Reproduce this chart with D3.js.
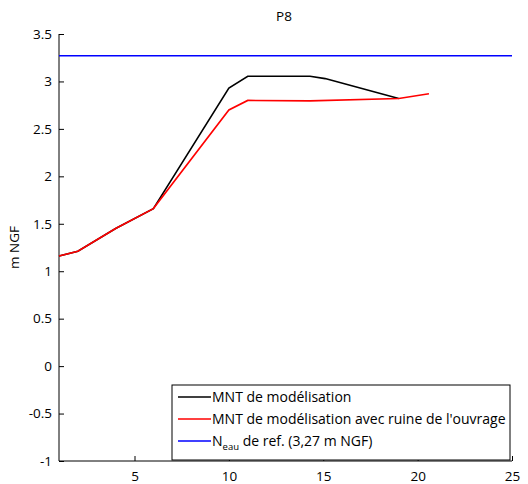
<!DOCTYPE html>
<html>
<head>
<meta charset="utf-8">
<script src="https://cdn.jsdelivr.net/npm/d3@7"></script>
<style>
  body { margin: 0; background: #fff; }
  text { font-family: "Open Sans", sans-serif; fill: #000; }
</style>
</head>
<body>
<svg id="chart" width="528" height="484"></svg>
<script>
// profil P8
const xMnt = [1, 2, 4, 6, 10, 11, 14.3, 15.1, 19];
const yMnt = [1.16, 1.21, 1.45, 1.66, 2.93, 3.055, 3.055, 3.03, 2.82];
const xRuine = [1, 2, 4, 6, 10, 11, 14.3, 19, 20.6];
const yRuine = [1.16, 1.21, 1.45, 1.66, 2.70, 2.80, 2.795, 2.82, 2.87];
const nEau = 3.27;
const xTicks = [5, 10, 15, 20, 25];
const yTicks = [-1, -0.5, 0, 0.5, 1, 1.5, 2, 2.5, 3, 3.5];
const legendLabels = ["MNT de modélisation", "MNT de modélisation avec ruine de l'ouvrage", "N|eau| de ref. (3,27 m NGF)"];
const colors = ["#000000", "#ff0000", "#0000ff"];

const margin = {top: 34, left: 59, right: 16, bottom: 23};
const W = 528, H = 484;
const svg = d3.select('#chart');

const x = d3.scaleLinear().domain([1, 25]).range([margin.left, W - margin.right]);
const y = d3.scaleLinear().domain([-1, 3.5]).range([H - margin.bottom, margin.top]);

// axes, ticks vers l'interieur
svg.append('g').attr('transform', `translate(0,${H - margin.bottom})`)
    .call(d3.axisBottom(x).tickValues(xTicks).tickSize(-5).tickPadding(10).tickFormat(d3.format('d')))
    .call(g => g.select('.domain').attr('d', `M${x(1)},0H${x(25)}`))
    .selectAll('text').style('font-size', '13.5px').attr('dy', '0.71em');

svg.append('g').attr('transform', `translate(${margin.left},0)`)
    .call(d3.axisLeft(y).tickValues(yTicks).tickSize(-5).tickPadding(7).tickFormat(d => d))
    .call(g => g.select('.domain').attr('d', `M0,${y(-1)}V${y(3.5)}`))
    .selectAll('text').style('font-size', '13.5px');

svg.selectAll('.domain, .tick line').attr('stroke', '#000');

// titre et label
svg.append('text').attr('x', 284).attr('y', 21).attr('text-anchor', 'middle')
    .style('font-size', '13.5px').text('P8');
svg.append('text').attr('transform', `translate(19,${y(1.25)}) rotate(-90)`)
    .attr('text-anchor', 'middle').style('font-size', '13.5px').text('m NGF');

const line = d3.line().x(d => x(d[0])).y(d => y(d[1]));

svg.append('path').datum(xMnt.map((d, i) => [d, yMnt[i]]))
    .attr('d', line).attr('fill', 'none').attr('stroke', colors[0]).attr('stroke-width', 1.6);
svg.append('path').datum(xRuine.map((d, i) => [d, yRuine[i]]))
    .attr('d', line).attr('fill', 'none').attr('stroke', colors[1]).attr('stroke-width', 1.6);
svg.append('path').datum([[1, nEau], [25, nEau]])
    .attr('d', line).attr('fill', 'none').attr('stroke', colors[2]).attr('stroke-width', 1.6);

// legende
const leg = svg.append('g').attr('transform', 'translate(172,385)');
leg.append('rect').attr('width', 338).attr('height', 75)
    .attr('fill', '#fff').attr('stroke', '#000').attr('stroke-width', 1);
legendLabels.forEach((lab, i) => {
  const ly = 12 + i * 22;
  leg.append('line').attr('x1', 6).attr('x2', 39).attr('y1', ly).attr('y2', ly)
      .attr('stroke', colors[i]).attr('stroke-width', 1.6);
  const t = leg.append('text').attr('x', 40).attr('y', ly + 5).style('font-size', '14px');
  const parts = lab.split('|');
  t.append('tspan').text(parts[0]);
  if (parts.length > 1) {
    t.append('tspan').attr('dy', 4).style('font-size', '9.5px').text(parts[1]);
    t.append('tspan').attr('dy', -4).text(parts[2]);
  }
});
</script>
</body>
</html>
